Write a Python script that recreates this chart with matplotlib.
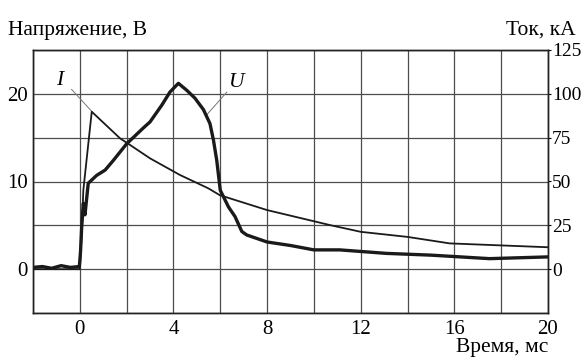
import matplotlib.pyplot as plt

# time axis, ms
u_time = [-2.0, -1.6, -1.2, -0.8, -0.4, -0.02, 0.03, 0.08, 0.15, 0.22, 0.36, 0.72, 1.08, 1.43,
          2.0, 2.71, 3.0, 3.5, 3.85, 4.21, 4.57, 4.92, 5.28, 5.56, 5.71, 5.85, 6.0, 6.35,
          6.63, 6.92, 7.13, 8.0, 9.0, 10.0, 11.1, 12.1, 13.1, 15.0, 17.5, 20.0]
u_volts = [0.2, 0.3, 0.1, 0.4, 0.2, 0.3, 2.0, 4.8, 7.5, 6.2, 9.8, 10.7, 11.3, 12.4,
           14.3, 16.1, 16.8, 18.7, 20.2, 21.2, 20.4, 19.5, 18.2, 16.6, 14.7, 12.4, 9.0, 7.1,
           6.0, 4.3, 3.9, 3.1, 2.7, 2.2, 2.2, 2.0, 1.8, 1.6, 1.2, 1.4]

i_time = [-2.0, 0.0, 0.08, 0.15, 0.35, 0.51, 1.72, 2.15, 3.0, 4.28, 5.49, 5.98, 8.0, 10.7,
          12.0, 14.0, 15.8, 20.0]
i_ka = [0.0, 0.0, 20.0, 45.0, 70.0, 89.8, 74.6, 70.8, 63.2, 53.7, 46.1, 42.2, 33.7, 25.1,
        21.3, 18.4, 14.7, 12.5]

x_ticks = [0, 4, 8, 12, 16, 20]
u_ticks = [0, 10, 20]
i_ticks = [0, 25, 50, 75, 100, 125]

plt.rcParams["font.family"] = ["Liberation Serif", "DejaVu Serif"]
fs_tick = 15
fs_title = 15.5

fig = plt.figure(figsize=(5.82, 3.57), dpi=100)
ax = fig.add_axes([33 / 582, 44 / 357, 515 / 582, 263 / 357])
ax2 = ax.twinx()

ax.set_xlim(-2, 20)
ax.set_ylim(-5, 25)
ax2.set_ylim(-25, 125)

# grid every 2 ms and 5 V
for x in range(-2, 21, 2):
    ax.axvline(x, color="#4d4d4d", lw=0.9, zorder=0)
for y in range(-5, 26, 5):
    ax.axhline(y, color="#4d4d4d", lw=0.9, zorder=0)

ax.plot(u_time, u_volts, color="#1a1a1a", lw=2.4, zorder=3)
ax2.plot(i_time, i_ka, color="#1a1a1a", lw=1.3, zorder=3)

# curve labels with leader lines
ax.text(-0.85, 21.5, "I", style="italic", fontsize=fs_title, ha="center", va="center")
ax.plot([-0.35, 0.51], [20.5, 18.0], color="#777777", lw=0.7)
ax.text(6.68, 21.3, "U", style="italic", fontsize=fs_title, ha="center", va="center")
ax.plot([6.28, 5.42], [20.2, 17.6], color="#777777", lw=0.7)

ax.set_xticks(x_ticks)
ax.set_yticks(u_ticks)
ax2.set_yticks(i_ticks)
ax.tick_params(axis="both", length=0, labelsize=fs_tick)
ax.tick_params(axis="x", pad=5)
ax.tick_params(axis="y", pad=4)
ax2.tick_params(axis="y", length=2, pad=1, labelsize=14)

for a in (ax, ax2):
    for s in a.spines.values():
        s.set_linewidth(1.0)
        s.set_color("#222222")

fig.text(8 / 582, 1 - 30 / 357, "Напряжение, В", fontsize=fs_title, ha="left", va="center")
fig.text(576 / 582, 1 - 30 / 357, "Ток, кА", fontsize=fs_title, ha="right", va="center")
fig.text(548 / 582, 1 - 352 / 357, "Время, мс", fontsize=fs_title, ha="right", va="baseline")

fig.savefig("out.png", dpi=100)
